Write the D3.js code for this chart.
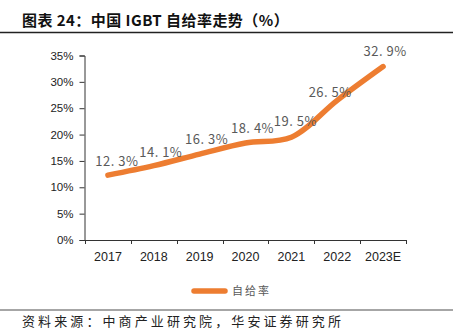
<!DOCTYPE html>
<html>
<head>
<meta charset="utf-8">
<script src="https://cdn.jsdelivr.net/npm/d3@7"></script>
<style>
  body { margin: 0; background: #fff; }
  svg { display: block; }
</style>
</head>
<body>
<div id="chart"></div>
<script>
const years = ["2017", "2018", "2019", "2020", "2021", "2022", "2023E"];
const selfRate = [12.3, 14.1, 16.3, 18.4, 19.5, 26.5, 32.9];
const yTicks = [0, 5, 10, 15, 20, 25, 30, 35];

const fullwidth = 453;
const fullheight = 335;
const orange = "#ED7D31";
const cjk = "'Noto Sans CJK SC', 'Noto Sans', sans-serif";
const latin = "'Liberation Sans', Arial, sans-serif";

// label nudges (dx, dy) relative to each point, like the hand-placed excel labels
const labelNudge = [[9, -9], [7, -9], [7, -10], [7, -10], [4, -11], [-7, -3], [2, -11]];

const svg = d3.select("#chart")
  .append("svg")
  .attr("width", fullwidth)
  .attr("height", fullheight);

// title + rule
svg.append("text")
  .attr("x", 22)
  .attr("y", 26)
  .style("font-family", cjk)
  .style("font-weight", "bold")
  .style("font-size", "15px")
  .style("letter-spacing", "0.45px")
  .style("fill", "#111")
  .text("图表 24：中国 IGBT 自给率走势（%）");

svg.append("line")
  .attr("x1", 0).attr("x2", fullwidth)
  .attr("y1", 32.5).attr("y2", 32.5)
  .attr("stroke", "#222")
  .attr("stroke-width", 1.3);

const x = d3.scaleBand().domain(years).range([85, 406]);
const y = d3.scaleLinear().domain([0, 35]).range([240, 55.5]);

// y axis
const yAxis = svg.append("g")
  .attr("transform", "translate(84.5,0)")
  .call(d3.axisLeft(y).tickValues(yTicks).tickSize(5).tickSizeOuter(5).tickFormat(d => d + "%"));
yAxis.select(".domain").attr("stroke", "#333");
yAxis.selectAll(".tick line").attr("stroke", "#333");
yAxis.selectAll(".tick text")
  .attr("x", -11)
  .style("font-family", latin)
  .style("font-size", "11.5px")
  .style("fill", "#222");

// x axis with ticks at band edges
const xAxis = svg.append("g")
  .attr("transform", "translate(0,240)")
  .call(d3.axisBottom(x).tickSize(0).tickSizeOuter(0));
xAxis.select(".domain").attr("stroke", "#333");
xAxis.selectAll(".tick text")
  .attr("y", 12)
  .style("font-family", latin)
  .style("font-size", "12.5px")
  .style("fill", "#222");
const edges = years.map(d => x(d)).concat([x(years[years.length - 1]) + x.bandwidth()]);
xAxis.selectAll(".edge")
  .data(edges)
  .enter().append("line")
  .attr("class", "edge")
  .attr("x1", d => Math.round(d) + 0.5).attr("x2", d => Math.round(d) + 0.5)
  .attr("y1", 0).attr("y2", 4)
  .attr("stroke", "#333");

// line
const cx = d => x(d) + x.bandwidth() / 2;
const line = d3.line()
  .x((d, i) => cx(years[i]))
  .y(d => y(d))
  .curve(d3.curveCatmullRom.alpha(0.5));

svg.append("path")
  .datum(selfRate)
  .attr("d", line)
  .attr("fill", "none")
  .attr("stroke", orange)
  .attr("stroke-width", 5.5)
  .attr("stroke-linecap", "round")
  .attr("stroke-linejoin", "round");

// data labels
svg.selectAll(".lbl")
  .data(selfRate)
  .enter().append("text")
  .attr("class", "lbl")
  .attr("x", (d, i) => cx(years[i]) + labelNudge[i][0])
  .attr("y", (d, i) => y(d) + labelNudge[i][1])
  .attr("text-anchor", "middle")
  .style("font-family", cjk)
  .style("font-size", "13px")
  .style("letter-spacing", "0.5px")
  .style("fill", "#595959")
  .text(d => d.toFixed(1).replace(".", ". ") + "%");

// legend
const legend = svg.append("g").attr("class", "legend");
legend.append("line")
  .attr("x1", 194).attr("x2", 225)
  .attr("y1", 291).attr("y2", 291)
  .attr("stroke", orange)
  .attr("stroke-width", 5.5)
  .attr("stroke-linecap", "round");
legend.append("text")
  .attr("x", 232)
  .attr("y", 295)
  .style("font-family", cjk)
  .style("font-size", "11px")
  .style("letter-spacing", "2px")
  .style("fill", "#595959")
  .text("自给率");

// bottom rule + source
svg.append("line")
  .attr("x1", 0).attr("x2", fullwidth)
  .attr("y1", 310).attr("y2", 310)
  .attr("stroke", "#888")
  .attr("stroke-width", 1.5);

svg.append("text")
  .attr("x", 22)
  .attr("y", 326)
  .style("font-family", cjk)
  .style("font-size", "13px")
  .style("letter-spacing", "3.1px")
  .style("fill", "#222")
  .text("资料来源：中商产业研究院，华安证券研究所");
</script>
</body>
</html>
